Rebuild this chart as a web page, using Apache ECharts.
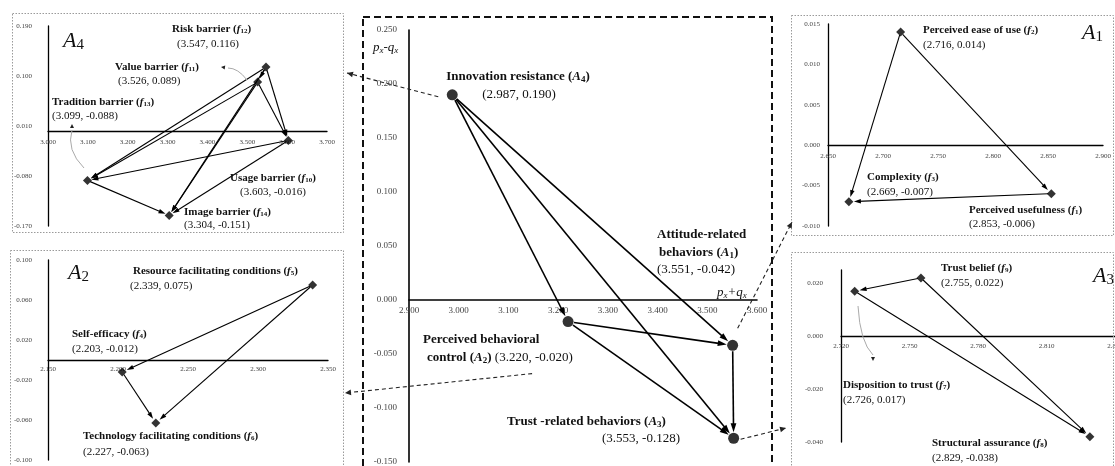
<!DOCTYPE html>
<html>
<head>
<meta charset="utf-8">
<script src="https://cdn.jsdelivr.net/npm/echarts@6/dist/echarts.min.js"></script>
<style>
  html, body { margin: 0; padding: 0; background: #fff; }
  #chart { width: 1115px; height: 466px; }
</style>
</head>
<body>
<div id="chart"></div>
<script>
// ---- Aspects (central influence map): px+qx and px-qx ----
const aspectCodes = ['4', '1', '2', '3'];
const aspectNames = ['Innovation resistance', 'Attitude-related behaviors', 'Perceived behavioral control', 'Trust -related behaviors'];
const aspectSum  = [2.987, 3.551, 3.220, 3.553];
const aspectDiff = [0.190, -0.042, -0.020, -0.128];
const aspectLinks = [[0, 2], [0, 1], [0, 3], [2, 1], [2, 3], [1, 3]];

// ---- A4: innovation resistance factors ----
const a4Codes = ['12', '11', '13', '10', '14'];
const a4Names = ['Risk barrier', 'Value barrier', 'Tradition barrier', 'Usage barrier', 'Image barrier'];
const a4Sum  = [3.547, 3.526, 3.099, 3.603, 3.304];
const a4Diff = [0.116, 0.089, -0.088, -0.016, -0.151];
const a4Links = [[0, 1], [0, 3], [0, 2], [0, 4], [1, 3], [1, 2], [1, 4], [3, 2], [3, 4], [2, 4]];

// ---- A1: attitude-related factors ----
const a1Codes = ['2', '3', '1'];
const a1Names = ['Perceived ease of use', 'Complexity', 'Perceived usefulness'];
const a1Sum  = [2.716, 2.669, 2.853];
const a1Diff = [0.014, -0.007, -0.006];
const a1Links = [[0, 2], [0, 1], [2, 1]];

// ---- A2: perceived behavioral control factors ----
const a2Codes = ['5', '4', '6'];
const a2Names = ['Resource facilitating conditions', 'Self-efficacy', 'Technology facilitating conditions'];
const a2Sum  = [2.339, 2.203, 2.227];
const a2Diff = [0.075, -0.012, -0.063];
const a2Links = [[0, 1], [0, 2], [1, 2]];

// ---- A3: trust-related factors ----
const a3Codes = ['9', '7', '8'];
const a3Names = ['Trust belief', 'Disposition to trust', 'Structural assurance'];
const a3Sum  = [2.755, 2.726, 2.829];
const a3Diff = [0.022, 0.017, -0.038];
const a3Links = [[0, 1], [0, 2], [1, 2]];

// ---- Axis scales: [min, max, tick step] ----
const mainXScale = [2.9, 3.6, 0.1];
const mainYScale = [-0.15, 0.25, 0.05];
const a4XScale = [3.0, 3.7, 0.1];
const a4YScale = [-0.17, 0.19, 0.09];
const a1XScale = [2.65, 2.9, 0.05];
const a1YScale = [-0.01, 0.015, 0.005];
const a2XScale = [2.15, 2.35, 0.05];
const a2YScale = [-0.1, 0.1, 0.04];
const a3XScale = [2.72, 2.84, 0.03];
const a3YScale = [-0.04, 0.025, 0.02];

// ================= drawing =================
const SERIF = '"Liberation Serif", "Times New Roman", Times, serif';
const chart = echarts.init(document.getElementById('chart'), null, { renderer: 'canvas' });

const panels = [
  { id: 'main', sum: aspectSum, diff: aspectDiff, links: aspectLinks, xs: mainXScale, ys: mainYScale,
    grid: { left: 409, top: 30, width: 348, height: 432 }, tick: 9, axisW: 1.6, xm: 6, ym: 12,
    symbol: 'circle', symSize: 11, lineW: 1.6, arrow: 9, rFrom: 6, rTo: 6 },
  { id: 'a4', sum: a4Sum, diff: a4Diff, links: a4Links, xs: a4XScale, ys: a4YScale,
    grid: { left: 48, top: 26, width: 279, height: 200 }, tick: 7, axisW: 1.3, xm: 7, ym: 16,
    symbol: 'diamond', symSize: 9, lineW: 1.1, arrow: 7, rFrom: 3, rTo: 4 },
  { id: 'a1', sum: a1Sum, diff: a1Diff, links: a1Links, xs: a1XScale, ys: a1YScale,
    grid: { left: 828, top: 24, width: 275, height: 202 }, tick: 7, axisW: 1.3, xm: 7, ym: 8,
    symbol: 'diamond', symSize: 9, lineW: 1.1, arrow: 7, rFrom: 3, rTo: 5 },
  { id: 'a2', sum: a2Sum, diff: a2Diff, links: a2Links, xs: a2XScale, ys: a2YScale,
    grid: { left: 48, top: 260, width: 280, height: 200 }, tick: 7, axisW: 1.3, xm: 6, ym: 16,
    symbol: 'diamond', symSize: 9, lineW: 1.1, arrow: 7, rFrom: 3, rTo: 5 },
  { id: 'a3', sum: a3Sum, diff: a3Diff, links: a3Links, xs: a3XScale, ys: a3YScale,
    grid: { left: 841, top: 270, width: 274, height: 172 }, tick: 7, axisW: 1.3, xm: 7, ym: 18,
    symbol: 'diamond', symSize: 9, lineW: 1.1, arrow: 7, rFrom: 3, rTo: 5 }
];

function tickFormatter(scale) {
  return function (v) {
    const k = (v - scale[0]) / scale[2];
    return Math.abs(k - Math.round(k)) < 1e-6 ? v.toFixed(3) : '';
  };
}

function axis(p, g, scale, margin, pos) {
  return {
    type: 'value', gridIndex: g, position: pos, offset: 0,
    min: scale[0], max: scale[1], interval: scale[2],
    splitLine: { show: false }, axisTick: { show: false },
    axisLine: { show: true, onZero: false, lineStyle: { color: '#000', width: p.axisW } },
    axisLabel: { fontFamily: SERIF, fontSize: p.tick, color: '#444', margin: margin,
      formatter: tickFormatter(scale), showMinLabel: true, showMaxLabel: true, hideOverlap: false }
  };
}

// narrow filled arrow head pointing up; the outer moves fix its box
const ARROW = 'path://M0,0L0,0M10,10L10,10M5,0L8.2,10L1.8,10Z';

const option = {
  animation: false,
  backgroundColor: '#fff',
  grid: panels.map(p => Object.assign({ containLabel: false, outerBoundsMode: 'none' }, p.grid)),
  xAxis: panels.map((p, g) => axis(p, g, p.xs, p.xm, 'bottom')),
  yAxis: panels.map((p, g) => axis(p, g, p.ys, p.ym, 'left')),
  series: []
};
panels.forEach((p, g) => {
  option.series.push({
    id: p.id + '-links', type: 'lines', coordinateSystem: 'cartesian2d', xAxisIndex: g, yAxisIndex: g,
    symbol: ['none', ARROW], symbolSize: p.arrow, silent: true, z: 3,
    lineStyle: { color: '#000', width: p.lineW, opacity: 1, curveness: 0 }, data: []
  });
  option.series.push({
    id: p.id + '-points', type: 'scatter', xAxisIndex: g, yAxisIndex: g,
    symbol: p.symbol, symbolSize: p.symSize, silent: true, z: 5,
    itemStyle: { color: '#000' },
    data: p.sum.map((x, i) => [x, p.diff[i]])
  });
});
chart.setOption(option);

const px = (g, v) => chart.convertToPixel({ gridIndex: g }, v);

// ---- lift each horizontal axis onto its zero line ----
chart.setOption({
  xAxis: panels.map((p, g) => {
    const zero = px(g, [p.xs[0], 0])[1];
    const bottom = px(g, [p.xs[0], p.ys[0]])[1];
    return { offset: zero - bottom };
  })
});

// ---- shorten each influence arrow so it stops at the markers ----
panels.forEach((p, g) => {
  const data = p.links.map(([s, t]) => {
    const a = px(g, [p.sum[s], p.diff[s]]);
    const b = px(g, [p.sum[t], p.diff[t]]);
    const dx = b[0] - a[0], dy = b[1] - a[1], L = Math.hypot(dx, dy);
    const ux = dx / L, uy = dy / L;
    const back = p.rTo + p.arrow / 2;
    const a2 = [a[0] + ux * p.rFrom, a[1] + uy * p.rFrom];
    const b2 = [b[0] - ux * back, b[1] - uy * back];
    return { coords: [chart.convertFromPixel({ gridIndex: g }, a2), chart.convertFromPixel({ gridIndex: g }, b2)] };
  });
  chart.setOption({ series: [{ id: p.id + '-links', data: data }] });
});

// ---- text helpers ----
function richSet(size) {
  const s = Math.round(size * 0.68);
  const dn = Math.round(size * 0.42);
  const base = { fontFamily: SERIF, fill: '#111' };
  return {
    b:  Object.assign({}, base, { fontWeight: 'bold', fontSize: size }),
    bi: Object.assign({}, base, { fontWeight: 'bold', fontStyle: 'italic', fontSize: size }),
    bs: Object.assign({}, base, { fontWeight: 'bold', fontSize: s, padding: [dn, 0, 0, 0] }),
    n:  Object.assign({}, base, { fontSize: size }),
    i:  Object.assign({}, base, { fontStyle: 'italic', fontSize: size }),
    is: Object.assign({}, base, { fontStyle: 'italic', fontSize: s, padding: [dn, 0, 0, 0] }),
    ns: Object.assign({}, base, { fontSize: s, padding: [dn, 0, 0, 0] })
  };
}
function txt(x, y, str, size, align) {
  return { type: 'text', x: x, y: y, z: 50, silent: true,
    style: { text: str, rich: richSet(size), fontFamily: SERIF, fontSize: size, fill: '#111',
      align: align || 'left', verticalAlign: 'middle' } };
}
const factorName = (name, code) => `{b|${name} (}{bi|f}{bs|${code}}{b|)}`;
const aspectName = (name, code) => `{b|${name} (}{bi|A}{bs|${code}}{b|)}`;
const coordText = (x, y) => `(${x.toFixed(3)}, ${y.toFixed(3)})`;
const valueText = (x, y) => `{n|${coordText(x, y)}}`;

const g = [];

// panel frames
const frame = (x, y, w, h) => ({ type: 'rect', z: 1, silent: true, shape: { x: x, y: y, width: w, height: h },
  style: { fill: 'none', stroke: '#9a9a9a', lineWidth: 1, lineDash: [1.5, 1.5] } });
g.push(frame(12.5, 13.5, 331, 219));
g.push(frame(791.5, 15.5, 322, 220));
g.push(frame(10.5, 250.5, 333, 230));
g.push(frame(791.5, 252.5, 322, 230));
g.push({ type: 'rect', z: 1, silent: true, shape: { x: 363, y: 17, width: 409, height: 470 },
  style: { fill: 'none', stroke: '#111', lineWidth: 2, lineDash: [7, 4] } });

// central labels
g.push(txt(518, 77, aspectName(aspectNames[0], aspectCodes[0]), 13, 'center'));
g.push(txt(519, 95, valueText(aspectSum[0], aspectDiff[0]), 13, 'center'));
(function () {
  const w = aspectNames[1].split(' ');
  g.push(txt(657, 235, `{b|${w[0]}}`, 13));
  g.push(txt(659, 253, aspectName(w.slice(1).join(' '), aspectCodes[1]), 13));
  g.push(txt(657, 270, valueText(aspectSum[1], aspectDiff[1]), 13));
})();
(function () {
  const w = aspectNames[2].split(' ');
  g.push(txt(423, 340, `{b|${w.slice(0, 2).join(' ')}}`, 13));
  g.push(txt(427, 358, aspectName(w.slice(2).join(' '), aspectCodes[2]) + `{n| ${coordText(aspectSum[2], aspectDiff[2])}}`, 13));
})();
g.push(txt(507, 422, aspectName(aspectNames[3], aspectCodes[3]), 13));
g.push(txt(602, 439, valueText(aspectSum[3], aspectDiff[3]), 13));
g.push(txt(373, 48, '{i|p}{is|x}{i|-q}{is|x}', 13));
g.push(txt(717, 293, '{i|p}{is|x}{i|+q}{is|x}', 13));

// side panel labels: [name x, name y, value x, value y]
function factorLabels(names, codes, sum, diff, pos) {
  names.forEach((nm, i) => {
    const q = pos[i];
    g.push(txt(q[0], q[1], factorName(nm, codes[i]), 11));
    g.push(txt(q[2], q[3], valueText(sum[i], diff[i]), 11));
  });
}
factorLabels(a4Names, a4Codes, a4Sum, a4Diff, [
  [172, 29, 177, 44], [115, 67, 118, 81], [52, 102, 52, 116], [230, 178, 240, 192], [184, 212, 184, 225]
]);
factorLabels(a1Names, a1Codes, a1Sum, a1Diff, [
  [923, 30, 923, 45], [867, 177, 867, 192], [969, 210, 969, 224]
]);
factorLabels(a2Names, a2Codes, a2Sum, a2Diff, [
  [133, 271, 130, 286], [72, 334, 72, 349], [83, 436, 83, 452]
]);
factorLabels(a3Names, a3Codes, a3Sum, a3Diff, [
  [941, 268, 941, 283], [843, 385, 843, 400], [932, 443, 932, 458]
]);

// panel titles
g.push(txt(63, 41, '{i|A}{ns|4}', 22));
g.push(txt(1082, 33, '{i|A}{ns|1}', 22));
g.push(txt(68, 273, '{i|A}{ns|2}', 22));
g.push(txt(1093, 276, '{i|A}{ns|3}', 22));

// arrow head polygon helper
function head(tip, from, len, half, color) {
  const dx = tip[0] - from[0], dy = tip[1] - from[1], L = Math.hypot(dx, dy);
  const ux = dx / L, uy = dy / L;
  const bx = tip[0] - ux * len, by = tip[1] - uy * len;
  return { type: 'polygon', z: 40, silent: true,
    shape: { points: [tip, [bx - uy * half, by + ux * half], [bx + uy * half, by - ux * half]] },
    style: { fill: color } };
}
function dashed(a, b) {
  g.push({ type: 'line', z: 40, silent: true, shape: { x1: a[0], y1: a[1], x2: b[0], y2: b[1] },
    style: { stroke: '#222', lineWidth: 1.1, lineDash: [4, 3] } });
  g.push(head(b, a, 6, 2.8, '#222'));
}
// connectors from the central map to each detail panel
const pA4 = px(0, [aspectSum[0], aspectDiff[0]]);
const pA1 = px(0, [aspectSum[1], aspectDiff[1]]);
const pA2 = px(0, [aspectSum[2], aspectDiff[2]]);
const pA3 = px(0, [aspectSum[3], aspectDiff[3]]);
dashed([pA4[0] - 14, pA4[1] + 2], [347, 73]);
dashed([pA2[0] - 36, pA2[1] + 52], [345, 393]);
dashed([pA1[0] + 5, pA1[1] - 17], [792, 222]);
dashed([pA3[0] + 7, pA3[1] + 1], [786, 428]);

// grey callout curves
function callout(x1, y1, cx, cy, x2, y2, tip) {
  g.push({ type: 'bezierCurve', z: 40, silent: true,
    shape: { x1: x1, y1: y1, x2: x2, y2: y2, cpx1: cx, cpy1: cy },
    style: { stroke: '#aaa', lineWidth: 1, fill: 'none' } });
  g.push(head(tip, [x2, y2], 4, 2, '#222'));
}
callout(247, 80, 238, 68, 228, 68, [221, 67]);
callout(84, 168, 66, 150, 72, 130, [72, 124]);
callout(858, 306, 860, 342, 873, 355, [873, 361]);

chart.setOption({ graphic: { elements: g } });
</script>
</body>
</html>
